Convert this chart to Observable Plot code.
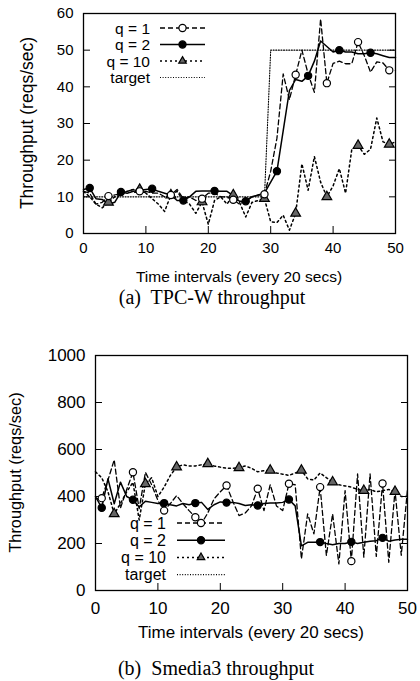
<!DOCTYPE html>
<html><head><meta charset="utf-8">
<script src="https://cdn.jsdelivr.net/npm/d3@7"></script>
<script src="https://cdn.jsdelivr.net/npm/@observablehq/plot@0.6"></script>
<style>
html,body{margin:0;padding:0;background:#fff}
body{width:420px;height:681px;position:relative;overflow:hidden}
.panel{position:absolute;left:0}
.cap{position:absolute;left:0;width:420px;text-align:center;font-family:"Liberation Serif","Times New Roman",serif;font-size:20px;white-space:pre;color:#000;line-height:1}
</style></head><body>
<div id="p1" class="panel" style="top:0"></div>
<div class="cap" style="top:287px;padding-left:4px;box-sizing:border-box">(a)  TPC-W throughput</div>
<div id="p2" class="panel" style="top:340px"></div>
<div class="cap" style="top:658px;padding-left:12px;box-sizing:border-box">(b)  Smedia3 throughput</div>
<script>
// ---- data ----
const intervals = [0,1,2,3,4,5,6,7,8,9,10,11,12,13,14,15,16,17,18,19,20,21,22,23,24,25,26,27,28,29,30,31,32,33,34,35,36,37,38,39,40,41,42,43,44,45,46,47,48,49,50];
const xTicks = [0,10,20,30,40,50];
const seriesNames = ["q = 1","q = 2","q = 10","target"];

// (a) TPC-W throughput
const tpcYTicks = [0,10,20,30,40,50,60];
const tpcQ1  = [11.5,11,8,8.5,10.2,10.5,11,11.5,12,11.5,11.5,11,11,10,10.5,12,9.5,10,9,9.5,11,11,10,10,9.2,8,9,10,10.5,10.7,17,26,43.5,36.5,43.3,50,43.5,38.5,58.5,41,46.4,47,46.3,46.3,52.2,48.5,44,46.8,46.5,44.5,44.5];
const tpcQ2  = [12,12.4,9.5,9.3,8,8.5,11.3,11,11.5,11.8,12,12.2,11.5,11,10.5,9,9,10,11.5,11.6,11.6,11.6,11.5,11.5,10.3,8.8,8.8,10,10.5,11,14,17,28,39,42,41.5,43,47,52.5,51,49.5,50,49.5,49.5,49,49,49.3,49,48.5,48,48];
const tpcQ10 = [11.5,10,8,7,8.5,10,11,11.5,12,12,11,9.5,8,6,10.5,11.5,9,8,5.5,8.6,2.5,9,10,8,10.5,8.5,4.5,8.5,9,9.5,3.2,3,5,0.9,5.5,19,11.8,21,14,10,13,17.7,11,23,24,21.6,23,31.5,25,24.3,25];
const tpcTarget = [10,10,10,10,10,10,10,10,10,10,10,10,10,10,10,10,10,10,10,10,10,10,10,10,10,10,10,10,10,10,50,50,50,50,50,50,50,50,50,50,50,50,50,50,50,50,50,50,50,50,50];

// (b) Smedia3 throughput
const smYTicks = [0,200,400,600,800,1000];
const smQ1  = [390,393,470,556,350,430,503,348,503,450,383,340,370,404,370,340,312,286,330,390,420,447,380,319,330,360,433,340,450,360,340,454,450,135,326,241,440,149,326,113,425,125,496,142,496,145,455,120,425,150,430];
const smQ2  = [400,352,475,369,461,400,386,355,380,375,370,372,365,360,370,365,372,375,345,365,377,374,375,370,362,365,362,370,372,372,375,387,360,190,205,205,206,200,195,200,200,207,200,205,210,212,224,210,215,218,218];
const smQ10 = [505,480,420,326,370,420,460,300,454,480,400,440,490,525,535,530,530,535,539,530,525,520,520,522,530,520,505,510,511,500,495,490,500,511,475,470,500,480,461,450,445,440,430,425,430,420,425,430,421,400,400];
const smTarget = []; // target not visible within the plotted area

// ---- styles ----
const STY = {
  q1:  {dash:"5,3", sw:1.3, sym:"circle", fill:"white"},
  q2:  {dash:null, sw:1.5, sym:"circle", fill:"black"},
  q10: {dash:"2,3", sw:1.5, sym:"triangle", fill:"#666"},
  target: {dash:"1,1.6", sw:1.1}
};

function rows(ys){ return intervals.map((x,i)=>({x, y: ys[i], i})).filter(d=>d.y!=null); }

function panel(el, o){
  const d1 = rows(o.q1), d2 = rows(o.q2), d10 = rows(o.q10), dt = rows(o.target);
  const font = "Liberation Sans, Arial, Helvetica, sans-serif";
  const line = (d, s) => Plot.line(d, {x:"x", y:"y", stroke:"black", strokeWidth:s.sw, strokeDasharray:s.dash});
  const dots = (d, s, k) => Plot.dot(d.filter(r=>r.i%5===k), {x:"x", y:"y", r:3.6, symbol:s.sym, fill:s.fill, stroke:"black", strokeWidth:1.2});
  const chart = Plot.plot({
    width: 420, height: o.height,
    marginLeft:o.ml, marginRight:o.mr, marginTop:o.mt, marginBottom:o.mb,
    style:{fontFamily:font, fontSize:o.tickFont+"px", background:"white", color:"black", overflow:"visible"},
    x:{domain:[0,50]},
    y:{domain:[0,o.yMax]},
    marks:[
      Plot.axisX({ticks:xTicks, tickSize:-7, tickFormat:()=>"", label:null}),
      Plot.axisX({ticks:xTicks, tickSize:0, tickPadding:o.xPad, tickFormat:d=>String(d), label:null}),
      Plot.axisY({ticks:o.yTicks, tickSize:-7, tickFormat:()=>"", label:null}),
      Plot.axisY({ticks:o.yTicks, tickSize:0, tickPadding:10, tickFormat:d=>String(d), label:null}),
      Plot.axisY({anchor:"right", ticks:o.yTicks, tickSize:-7, tickFormat:()=>"", label:null}),
      line(dt, STY.target),
      line(d10, STY.q10),
      line(d1, STY.q1),
      line(d2, STY.q2),
      dots(d10, STY.q10, o.mk10),
      dots(d1, STY.q1, o.mk1),
      dots(d2, STY.q2, o.mk2),
      Plot.frame({stroke:"black", strokeWidth:1.3})
    ]
  });
  const svg = d3.select(chart);
  const W = 420, fx0 = o.ml, fx1 = W - o.mr, fy0 = o.mt, fy1 = o.height - o.mb;
  // axis titles
  svg.append("text").attr("x",(fx0+fx1)/2).attr("y",fy1+o.xLabDy)
    .attr("text-anchor","middle").attr("font-family",font).attr("font-size",o.xLabFont)
    .text("Time intervals (every 20 secs)");
  svg.append("text").attr("transform",`translate(${o.yLabX},${(fy0+fy1)/2}) rotate(-90)`)
    .attr("text-anchor","middle").attr("dominant-baseline","central").attr("font-family",font).attr("font-size",o.yLabFont)
    .text("Throughput (reqs/sec)");
  // legend
  const L = o.legend;
  const g = svg.append("g").attr("font-family",font).attr("font-size",L.font);
  const keys = ["q1","q2","q10","target"];
  keys.forEach((k,j)=>{
    const y = L.y0 + j*L.dy, s = STY[k];
    g.append("text").attr("x",L.tx).attr("y",y).attr("text-anchor","end").attr("dy","0.36em").text(seriesNames[j]);
    g.append("line").attr("x1",L.lx0).attr("x2",L.lx1).attr("y1",y).attr("y2",y)
      .attr("stroke","black").attr("stroke-width",s.sw).attr("stroke-dasharray",s.dash);
    if (s.sym){
      const type = s.sym==="circle" ? d3.symbolCircle : (d3.symbolTriangle2 || d3.symbolTriangle);
      g.append("path").attr("d", d3.symbol(type, Math.PI*3.6*3.6)())
        .attr("transform",`translate(${(L.lx0+L.lx1)/2},${y})`)
        .attr("fill",s.fill).attr("stroke","black").attr("stroke-width",1.2);
    }
  });
  document.getElementById(el).appendChild(chart);
}

panel("p1", {q1:tpcQ1, q2:tpcQ2, q10:tpcQ10, target:tpcTarget, yMax:60, yTicks:tpcYTicks,
  mk1:4, mk2:1, mk10:4, height:285, ml:83, mr:25, mt:13, mb:52, tickFont:15, xPad:9,
  xLabDy:49, xLabFont:15.5, yLabX:27, yLabFont:17.5,
  legend:{font:15.5, tx:150, lx0:160, lx1:205, y0:28, dy:16.5}});

panel("p2", {q1:smQ1, q2:smQ2, q10:smQ10, target:smTarget, yMax:1000, yTicks:smYTicks,
  mk1:1, mk2:1, mk10:3, height:300, ml:95, mr:13, mt:15, mb:50, tickFont:17, xPad:11,
  xLabDy:48, xLabFont:17, yLabX:15, yLabFont:16.3,
  legend:{font:16, tx:166, lx0:177, lx1:225, y0:183, dy:17.2}});
</script>
</body></html>
